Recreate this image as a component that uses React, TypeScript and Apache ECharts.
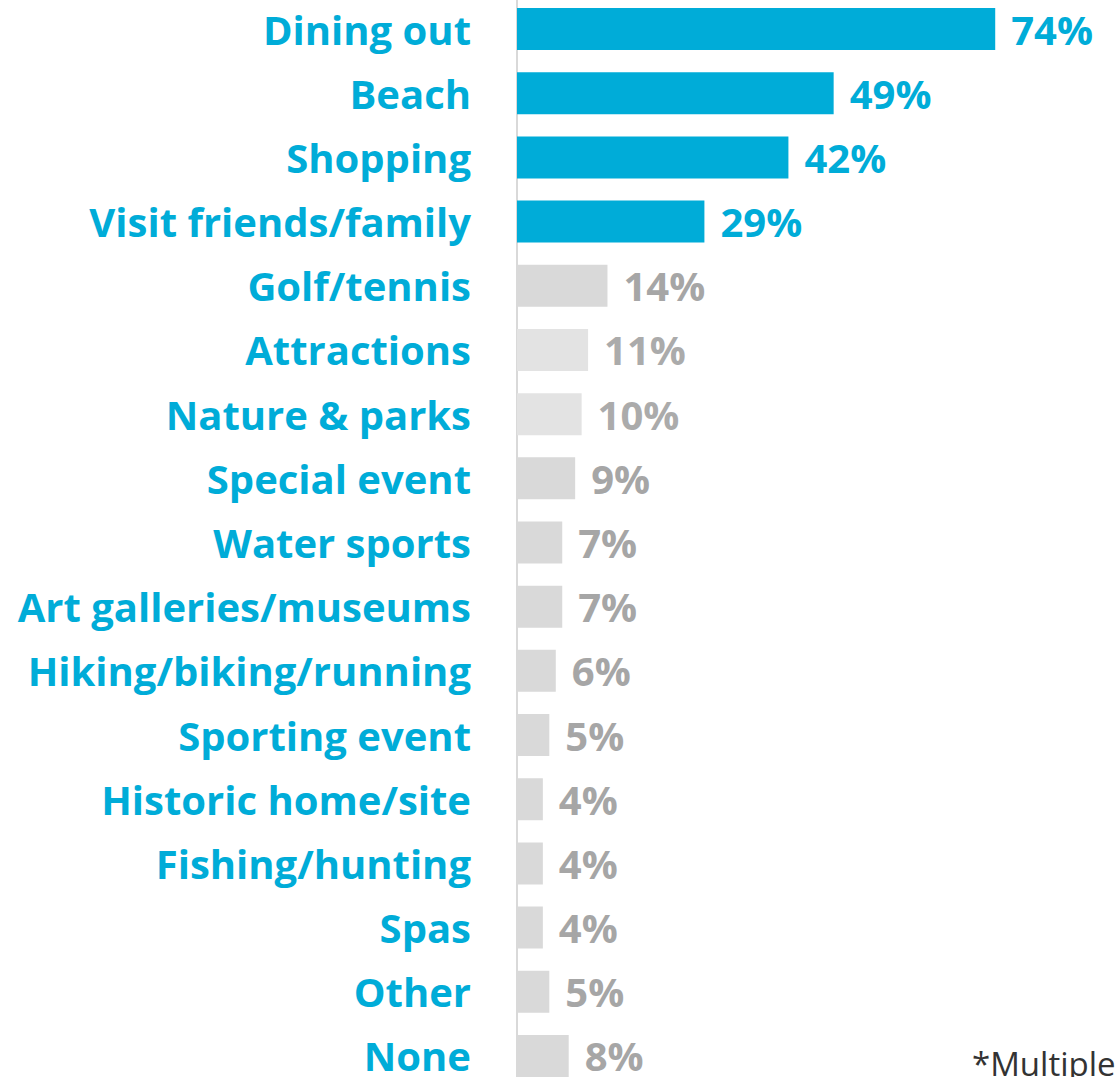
import React, { useEffect, useRef } from "react";
import * as echarts from "echarts";

const categories = [
  "Dining out",
  "Beach",
  "Shopping",
  "Visit friends/family",
  "Golf/tennis",
  "Attractions",
  "Nature & parks",
  "Special event",
  "Water sports",
  "Art galleries/museums",
  "Hiking/biking/running",
  "Sporting event",
  "Historic home/site",
  "Fishing/hunting",
  "Spas",
  "Other",
  "None",
];
const values = [74, 49, 42, 29, 14, 11, 10, 9, 7, 7, 6, 5, 4, 4, 4, 5, 8];
const barColors = [
  "#00ACD8", "#00ACD8", "#00ACD8", "#00ACD8",
  "#D9D9D9", "#E3E3E3", "#E3E3E3", "#D9D9D9", "#D9D9D9", "#D9D9D9",
  "#D9D9D9", "#D9D9D9", "#D9D9D9", "#D9D9D9", "#D9D9D9", "#D9D9D9", "#D9D9D9",
];
const labelColors = [
  "#00ACD8", "#00ACD8", "#00ACD8", "#00ACD8",
  "#A6A6A6", "#ABABAB", "#ABABAB", "#A6A6A6", "#A6A6A6", "#A6A6A6",
  "#A6A6A6", "#A6A6A6", "#A6A6A6", "#A6A6A6", "#A6A6A6", "#A6A6A6", "#A6A6A6",
];
const footnote = "*Multiple";

export default function App() {
  const ref = useRef<HTMLDivElement>(null);
  useEffect(() => {
    if (!ref.current) return;
    const chart = echarts.init(ref.current, null, { renderer: "svg" });
    chart.setOption({
      animation: false,
      backgroundColor: "#ffffff",
      grid: { left: 517, right: 0, top: 0, bottom: 0, containLabel: false },
      xAxis: {
        type: "value",
        min: 0,
        max: 93,
        show: false,
      },
      yAxis: {
        type: "category",
        inverse: true,
        data: categories,
        axisLine: { show: true, lineStyle: { color: "#D9D9D9", width: 2 } },
        axisTick: { show: false },
        axisLabel: {
          margin: 46,
          color: "#00ACD8",
          fontFamily: "Open Sans",
          fontWeight: "bold",
          fontSize: 40,
        },
      },
      series: [
        {
          type: "bar",
          barWidth: 42,
          data: values.map((v, i) => ({
            value: v,
            itemStyle: { color: barColors[i] },
            label: { color: labelColors[i] },
          })),
          label: {
            show: true,
            position: "right",
            distance: 16,
            formatter: "{c}%",
            fontFamily: "Open Sans",
            fontWeight: "bold",
            fontSize: 40,
          },
        },
      ],
      graphic: [
        {
          type: "text",
          left: 972,
          top: 1050,
          style: {
            text: footnote,
            fontFamily: "Open Sans",
            fontSize: 33,
            fill: "#333333",
          },
        },
      ],
    });
    return () => chart.dispose();
  }, []);
  return (
    <div
      ref={ref}
      style={{ position: "absolute", left: 0, top: -3, width: 1118, height: 1091 }}
    />
  );
}
